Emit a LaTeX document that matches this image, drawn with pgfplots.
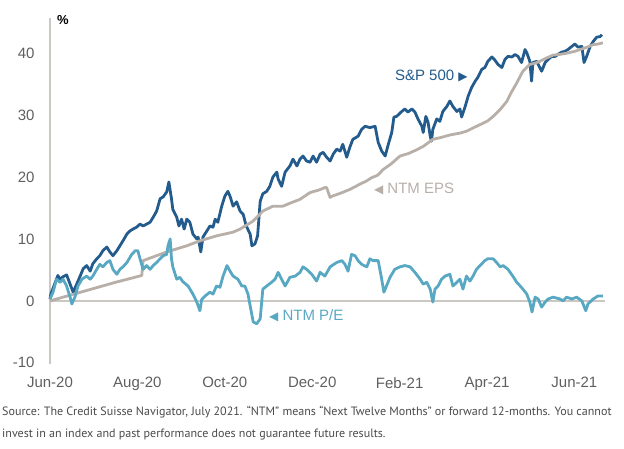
\documentclass[border=0pt]{standalone}
\usepackage{pgfplots}
\pgfplotsset{compat=1.18}
\usepackage{fontspec}
\setmainfont{Liberation Sans}
\newfontfamily\srcfont{PT Sans}
\newfontfamily\symfont{DejaVu Sans}
\definecolor{spx}{HTML}{235B8C}
\definecolor{pe}{HTML}{58A8C3}
\definecolor{eps}{HTML}{B7AFA8}
\definecolor{axisgray}{HTML}{CBC7C3}
\definecolor{ticktext}{HTML}{5F5F5F}
\definecolor{srctext}{HTML}{4A4A4A}

\pgfplotstableread{
x y
0 0.3
0.02 1.1
0.18 4.1
0.23 3.5
0.30 3.9
0.38 4.2
0.46 2.7
0.53 1.4
0.61 2.7
0.69 4.0
0.76 5.2
0.84 5.7
0.92 4.8
0.98 6.0
1.07 6.8
1.14 7.3
1.21 8.1
1.30 8.7
1.37 7.9
1.44 7.3
1.53 8.1
1.60 8.9
1.67 9.7
1.76 10.8
1.83 11.3
1.90 11.6
1.98 11.9
2.06 12.4
2.13 12.1
2.21 12.4
2.29 12.7
2.36 13.5
2.44 14.5
2.52 16.5
2.59 16.8
2.67 17.6
2.72 19.2
2.78 16.5
2.81 14.8
2.90 13.5
2.95 12.1
3.01 13.2
3.07 11.6
3.13 13.2
3.20 12.7
3.27 10.8
3.36 10.0
3.39 10.3
3.45 7.9
3.50 10.3
3.59 11.3
3.66 12.1
3.73 11.9
3.78 13.2
3.84 12.7
3.93 15.3
4.00 16.9
4.07 17.7
4.12 16.9
4.19 15.3
4.27 16.0
4.35 14.5
4.42 14.0
4.49 12.1
4.58 10.8
4.62 8.9
4.69 9.2
4.75 10.5
4.81 16.1
4.87 17.3
4.96 17.7
5.03 18.5
5.10 20.0
5.19 20.8
5.22 19.7
5.30 18.5
5.38 20.8
5.49 21.8
5.56 22.9
5.65 21.8
5.72 22.9
5.79 23.4
5.87 22.6
5.95 22.4
6.02 23.4
6.10 22.4
6.18 23.7
6.25 24.0
6.33 23.2
6.41 22.6
6.48 23.7
6.56 24.5
6.64 24.2
6.70 25.3
6.79 23.2
6.86 24.8
6.93 26.1
7.05 26.6
7.13 27.7
7.21 28.2
7.32 28.0
7.44 28.2
7.51 25.6
7.59 24.2
7.67 23.4
7.73 25.0
7.82 27.2
7.87 29.7
7.93 29.8
8.05 30.6
8.12 31.0
8.19 30.5
8.28 31.0
8.35 30.5
8.42 29.4
8.51 28.2
8.54 27.2
8.60 29.8
8.65 28.9
8.70 26.6
8.73 25.8
8.76 27.7
8.85 29.4
8.92 29.0
8.99 30.6
9.08 31.4
9.15 32.3
9.22 31.4
9.31 30.6
9.38 31.0
9.42 29.7
9.50 31.4
9.57 33.1
9.65 34.5
9.73 35.5
9.79 36.1
9.88 37.4
9.95 37.7
10.02 38.7
10.11 39.4
10.18 38.9
10.25 38.2
10.34 37.7
10.41 39.0
10.48 39.5
10.57 39.4
10.64 39.8
10.71 39.5
10.79 38.5
10.87 40.6
10.91 40.1
10.98 38.7
11.02 35.5
11.05 38.5
11.14 38.7
11.17 38.2
11.25 37.1
11.33 38.5
11.40 39.0
11.48 39.5
11.56 39.5
11.62 39.8
11.71 40.2
11.78 40.3
11.85 40.6
11.94 41.1
12.01 41.5
12.08 41.0
12.17 41.1
12.22 38.5
12.28 39.5
12.36 41.1
12.43 41.9
12.51 42.6
12.59 42.7
12.63 43.0
}\spx

\pgfplotstableread{
x y
0 0
0.50 1.0
1.00 2.0
1.50 3.0
2.10 4.1
2.13 6.5
2.40 7.2
2.67 7.9
2.90 8.4
3.13 8.9
3.43 9.7
3.81 10.5
4.19 11.1
4.35 11.6
4.65 12.9
4.87 14.5
5.10 15.3
5.33 15.3
5.50 15.8
5.72 16.4
5.95 17.5
6.15 17.9
6.29 18.3
6.33 18.3
6.41 16.7
6.45 16.9
6.65 17.4
6.86 18.0
7.05 18.7
7.25 19.4
7.36 19.9
7.50 20.3
7.62 21.2
7.80 22.1
8.01 23.4
8.20 23.8
8.39 24.4
8.55 25.0
8.76 26.1
8.95 26.4
9.15 26.8
9.38 27.1
9.53 27.4
9.70 28.0
9.91 28.7
10.02 29.1
10.14 29.8
10.30 30.9
10.45 32.2
10.55 33.6
10.68 35.2
10.82 37.1
10.98 38.2
11.10 38.4
11.21 38.7
11.35 39.2
11.51 39.7
11.65 39.8
11.82 40.0
12.00 40.3
12.13 40.6
12.30 41.0
12.43 41.4
12.55 41.5
12.65 41.7
}\eps

\pgfplotstableread{
x y
0 0.3
0.07 1.4
0.15 3.5
0.23 3.0
0.30 3.5
0.38 2.4
0.46 0.6
0.50 -0.5
0.57 0.6
0.64 2.4
0.73 3.5
0.84 4.0
0.92 3.5
0.98 4.0
1.07 5.1
1.14 5.9
1.21 5.5
1.30 6.2
1.37 6.5
1.44 5.1
1.53 4.3
1.60 5.1
1.67 5.5
1.76 6.2
1.87 7.5
1.95 8.1
2.01 8.1
2.06 6.8
2.13 5.1
2.21 5.7
2.29 5.1
2.36 5.7
2.44 6.2
2.52 6.8
2.59 7.3
2.67 7.5
2.70 8.9
2.75 10.0
2.78 6.8
2.81 5.5
2.90 3.5
2.97 3.8
3.04 3.1
3.16 2.4
3.27 1.1
3.36 -0.2
3.43 -1.6
3.47 0.2
3.55 0.8
3.66 1.4
3.73 1.1
3.81 2.4
3.89 2.2
3.96 4.0
4.05 5.7
4.12 4.8
4.19 4.0
4.30 3.5
4.39 2.4
4.46 2.4
4.53 1.1
4.58 -0.8
4.65 -3.4
4.73 -3.7
4.81 -2.9
4.87 1.9
4.96 2.4
5.07 3.0
5.15 3.5
5.22 4.6
5.30 3.5
5.38 2.4
5.49 3.8
5.61 4.0
5.72 4.6
5.79 5.5
5.87 5.1
5.99 4.3
6.10 3.2
6.18 4.6
6.29 4.0
6.41 5.5
6.56 6.2
6.68 6.5
6.75 5.9
6.82 4.8
6.90 7.5
6.98 7.3
7.05 6.5
7.13 5.9
7.25 5.5
7.32 6.8
7.39 6.5
7.51 6.5
7.59 3.5
7.64 1.4
7.70 2.4
7.78 3.8
7.89 5.1
8.01 5.5
8.12 5.7
8.24 5.5
8.35 4.6
8.47 3.5
8.54 2.7
8.62 3.0
8.70 1.9
8.76 -0.2
8.81 1.9
8.88 2.4
8.96 3.5
9.04 4.0
9.15 4.3
9.22 2.4
9.31 3.0
9.38 3.5
9.45 1.9
9.53 4.0
9.61 3.2
9.68 4.0
9.76 5.1
9.84 5.7
9.95 6.5
10.02 6.8
10.14 6.8
10.22 6.2
10.30 5.5
10.37 5.7
10.48 5.1
10.59 4.0
10.68 3.0
10.76 2.4
10.82 1.9
10.91 1.1
10.98 -0.2
11.03 -1.8
11.10 0.6
11.17 0.3
11.25 -1.0
11.33 -0.2
11.40 0.3
11.51 0.6
11.67 0.3
11.74 0.0
11.82 0.6
11.94 0.3
12.05 0.6
12.17 0.0
12.26 -1.6
12.31 -0.5
12.43 0.3
12.54 0.8
12.65 0.8
}\pe

\begin{document}
\begin{tikzpicture}
\useasboundingbox (0,0) rectangle (624bp,449bp);
\begin{axis}[
  at={(50bp,85bp)}, anchor=south west,
  scale only axis, width=555bp, height=346bp,
  xmin=0, xmax=12.7, ymin=-10.2, ymax=45.7,
  axis lines=left, axis line style={-},
  x axis line style={draw=none},
  y axis line style={draw=axisgray, line width=1.6bp},
  major tick length=0pt,
  xtick={0,2,4,6,8,10,12},
  xticklabels={Jun-20,Aug-20,Oct-20,Dec-20,Feb-21,Apr-21,Jun-21},
  ytick={-10,0,10,20,30,40},
  yticklabels={-10,0,10,20,30,40},
  tick label style={font=\fontsize{15bp}{18bp}\selectfont, text=ticktext},
  xticklabel style={yshift=-10bp},
  yticklabel style={xshift=-12bp},
  clip=false,
]
\addplot[draw=axisgray, line width=1.4bp] coordinates {(0,0) (12.7,0)};
\addplot[spx, line width=2.8bp, line join=round] table[x=x,y=y] {\spx};
\addplot[eps, line width=2.8bp, line join=round] table[x=x,y=y] {\eps};
\addplot[pe, line width=2.8bp, line join=round] table[x=x,y=y] {\pe};

\node[anchor=west, inner sep=0, text=spx, font=\fontsize{15bp}{18bp}\selectfont]
  at (axis cs:7.89,36.3) {S\&P 500 {\symfont\fontsize{12bp}{14bp}\selectfont ▶}};
\node[anchor=west, inner sep=0, text=eps, font=\fontsize{15bp}{18bp}\selectfont]
  at (axis cs:7.41,18.0) {{\symfont\fontsize{12bp}{14bp}\selectfont ◀} NTM EPS};
\node[anchor=west, inner sep=0, text=pe, font=\fontsize{15bp}{18bp}\selectfont]
  at (axis cs:5.01,-2.45) {{\symfont\fontsize{12bp}{14bp}\selectfont ◀} NTM P/E};
\node[anchor=west, inner sep=0, font=\bfseries\fontsize{13bp}{15bp}\selectfont]
  at (axis cs:0.16,45.3) {\%};
\end{axis}
\node[anchor=base west, inner sep=0, text=srctext, font=\srcfont\fontsize{12.05bp}{15bp}\selectfont]
  at (2bp,34bp) {Source: The Credit Suisse Navigator, July 2021. “NTM” means “Next Twelve Months” or forward 12-months. You cannot};
\node[anchor=base west, inner sep=0, text=srctext, font=\srcfont\fontsize{12.05bp}{15bp}\selectfont]
  at (2bp,12bp) {invest in an index and past performance does not guarantee future results.};
\end{tikzpicture}
\end{document}
